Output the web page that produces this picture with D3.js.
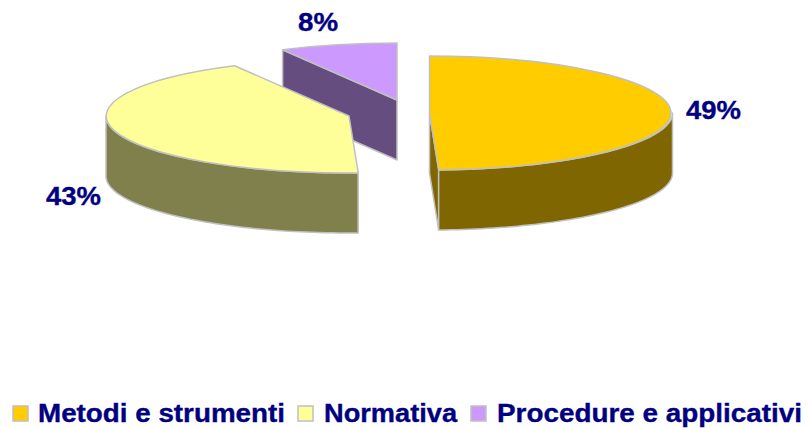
<!DOCTYPE html>
<html>
<head>
<meta charset="utf-8">
<script src="https://cdn.jsdelivr.net/npm/d3@7"></script>
<style>
  html, body { margin: 0; padding: 0; background: #fff; }
  svg { display: block; }
  text { font-family: "Liberation Sans", Arial, sans-serif; font-weight: bold; fill: #000080; stroke: #000080; stroke-width: 0.35px; }
</style>
</head>
<body>
<svg id="chart" width="808" height="428"></svg>
<script>
// chart values
const categories = ["Metodi e strumenti", "Normativa", "Procedure e applicativi"];
const values = [49.4, 42.8, 7.8];

// styles and layout
const topColors = ["#ffcc00", "#ffff99", "#cc99ff"];
const sideColors = ["#806600", "#80804d", "#664d80"];
const edgeColor = "#c0c0c0";
const centers = [[429.5, 113], [349, 116], [397, 100]]; // exploded slice centres
const rx = 243;
const ry = 57;
const depth = 60;
const labelPos = [[686, 119], [46, 205], [298, 31]];
const labelSizes = [26, 26, 26];
const labelWidth = [55, 55, 40];
const legendBoxX = [13, 298, 471];
const legendTextX = [38, 324, 497];
const legendTextW = [247, 133, 305];

const svg = d3.select("#chart");

const pie = d3.pie().sort(null).startAngle(0).endAngle(2 * Math.PI);
const arcs = pie(values);

// unit arc, squashed into an ellipse by the transform
const arc = d3.arc().innerRadius(0).outerRadius(1);

// clockwise angle from 12 o'clock -> screen point
const pt = (i, a, dy = 0) => [
  centers[i][0] + rx * Math.sin(a),
  centers[i][1] - ry * Math.cos(a) + dy,
];
const line = d3.line();

// draw back to front: purple, yellow, gold
[2, 1, 0].forEach((i) => {
  const d = arcs[i];
  const g = svg.append("g");

  // flat walls along the cut edges, only the ones facing the viewer
  [d.startAngle, d.endAngle].forEach((a, k) => {
    const showWall = k === 0 ? Math.sin(a) < 0 : Math.sin(a) > 0;
    if (!showWall) return;
    const c = centers[i];
    const p = pt(i, a);
    g.append("path")
      .attr("d", line([c, p, [p[0], p[1] + depth], [c[0], c[1] + depth]]) + "Z")
      .attr("fill", sideColors[i])
      .attr("stroke", edgeColor)
      .attr("stroke-width", 1.5)
      .attr("stroke-linejoin", "round");
  });

  // outer rim, the front part of the ellipse only
  const a0 = Math.max(d.startAngle, Math.PI / 2);
  const a1 = Math.min(d.endAngle, (3 * Math.PI) / 2);
  if (a1 > a0) {
    const angles = d3.range(0, 61).map((t) => a0 + ((a1 - a0) * t) / 60);
    const rim = angles.map((a) => pt(i, a)).concat(angles.slice().reverse().map((a) => pt(i, a, depth)));
    g.append("path")
      .attr("d", line(rim) + "Z")
      .attr("fill", sideColors[i])
      .attr("stroke", edgeColor)
      .attr("stroke-width", 1.5)
      .attr("stroke-linejoin", "round");
  }

  // top face
  g.append("path")
    .attr("d", arc(d))
    .attr("transform", `translate(${centers[i][0]},${centers[i][1]}) scale(${rx},${ry})`)
    .attr("fill", topColors[i])
    .attr("stroke", edgeColor)
    .attr("stroke-width", 1.5)
    .attr("stroke-linejoin", "round")
    .attr("vector-effect", "non-scaling-stroke");
});

// percent labels
values.forEach((v, i) => {
  svg.append("text")
    .attr("x", labelPos[i][0])
    .attr("y", labelPos[i][1])
    .attr("font-size", labelSizes[i])
    .attr("textLength", labelWidth[i])
    .attr("lengthAdjust", "spacingAndGlyphs")
    .text(`${Math.round(v)}%`);
});

// legend
categories.forEach((c, i) => {
  svg.append("rect")
    .attr("x", legendBoxX[i])
    .attr("y", 406)
    .attr("width", 15)
    .attr("height", 15)
    .attr("fill", topColors[i])
    .attr("stroke", edgeColor)
    .attr("stroke-width", 1.5);
  svg.append("text")
    .attr("x", legendTextX[i])
    .attr("y", 422)
    .attr("font-size", 25)
    .attr("textLength", legendTextW[i])
    .attr("lengthAdjust", "spacingAndGlyphs")
    .text(c);
});
</script>
</body>
</html>
